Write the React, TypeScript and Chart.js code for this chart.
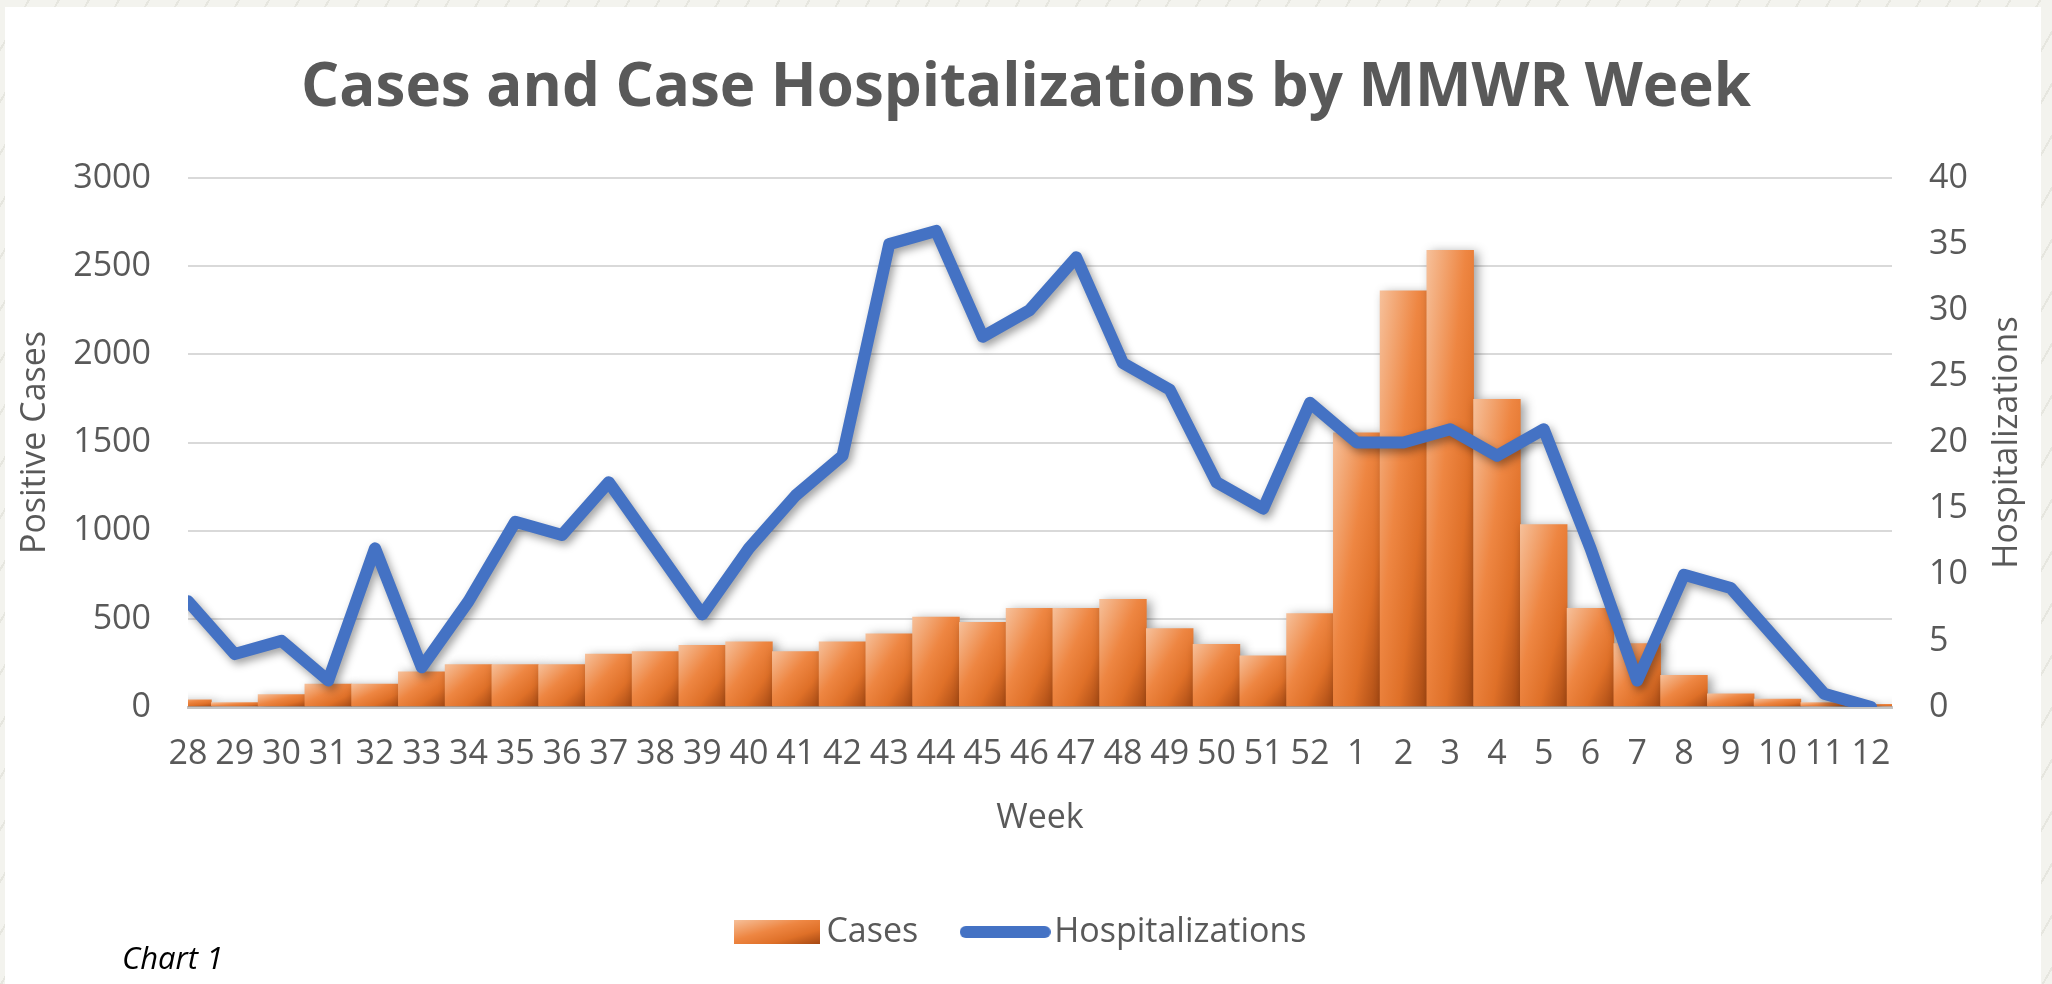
import React, { useEffect, useRef } from "react";
import { Chart, registerables } from "chart.js";

Chart.register(...registerables);

const chartTitle = "Cases and Case Hospitalizations by MMWR Week";
const leftAxisTitle = "Positive Cases";
const rightAxisTitle = "Hospitalizations";
const xAxisTitle = "Week";
const caption = "Chart 1";
const seriesNames = ["Cases", "Hospitalizations"];

const weeks = [
  "28", "29", "30", "31", "32", "33", "34", "35", "36", "37", "38", "39", "40",
  "41", "42", "43", "44", "45", "46", "47", "48", "49", "50", "51", "52",
  "1", "2", "3", "4", "5", "6", "7", "8", "9", "10", "11", "12",
];

const cases = [
  40, 25, 70, 130, 130, 200, 240, 240, 240, 300, 315, 350, 370,
  315, 370, 415, 510, 480, 560, 560, 610, 445, 355, 290, 530,
  1555, 2360, 2590, 1745, 1035, 560, 360, 180, 75, 45, 25, 15,
];

const hospitalizations = [
  8, 4, 5, 2, 12, 3, 8, 14, 13, 17, 12, 7, 12,
  16, 19, 35, 36, 28, 30, 34, 26, 24, 17, 15, 23,
  20, 20, 21, 19, 21, 12, 2, 10, 9, 5, 1, 0,
];

const leftTicks = [0, 500, 1000, 1500, 2000, 2500, 3000];
const rightTicks = [0, 5, 10, 15, 20, 25, 30, 35, 40];

const TEXT = "#595959";
const FONT = "'Open Sans'";
const LINE_COLOR = "#4472c4";

function barGradient(g: CanvasRenderingContext2D, x0: number, y0: number, w: number, h: number) {
  const hh = Math.max(h, 1);
  const t = (2 * w * hh) / (w * w + hh * hh);
  const grad = g.createLinearGradient(x0, y0, x0 + t * hh, y0 + t * w);
  grad.addColorStop(0, "#f6c09a");
  grad.addColorStop(0.42, "#ee8642");
  grad.addColorStop(0.7, "#df7028");
  grad.addColorStop(1, "#a54812");
  return grad;
}

const shadowPlugin = {
  id: "shadowPlugin",
  beforeDatasetDraw(chart: any, args: any) {
    const c = chart.ctx;
    c.save();
    c.shadowColor = "rgba(0,0,0,0.38)";
    if (args.index === 0) {
      c.shadowBlur = 10;
      c.shadowOffsetX = 4;
      c.shadowOffsetY = 2;
    } else {
      c.shadowBlur = 8;
      c.shadowOffsetX = 3;
      c.shadowOffsetY = 4;
    }
  },
  afterDatasetDraw(chart: any) {
    chart.ctx.restore();
  },
};

const rightTitlePlugin = {
  id: "rightTitlePlugin",
  afterDraw(chart: any) {
    const s = chart.scales.y1;
    const a = chart.chartArea;
    const c = chart.ctx;
    c.save();
    c.translate(s.left + 115, (a.top + a.bottom) / 2);
    c.rotate(-Math.PI / 2);
    c.font = `34px ${FONT}`;
    c.fillStyle = TEXT;
    c.textAlign = "center";
    c.textBaseline = "middle";
    c.fillText(rightAxisTitle, 0, 0);
    c.restore();
  },
};

export default function App() {
  const ref = useRef<HTMLCanvasElement | null>(null);

  useEffect(() => {
    document.body.style.margin = "0";
    const canvas = ref.current;
    if (!canvas) return;

    const swatch = document.createElement("canvas");
    swatch.width = 86;
    swatch.height = 24;
    const sg = swatch.getContext("2d")!;
    sg.fillStyle = barGradient(sg, 0, 0, 86, 24);
    sg.fillRect(0, 0, 86, 24);

    const lineSwatch = document.createElement("canvas");
    lineSwatch.width = 91;
    lineSwatch.height = 14;
    const lg = lineSwatch.getContext("2d")!;
    lg.strokeStyle = LINE_COLOR;
    lg.lineWidth = 12;
    lg.lineCap = "round";
    lg.beginPath();
    lg.moveTo(6, 7);
    lg.lineTo(85, 7);
    lg.stroke();

    const chart = new Chart(canvas, {
      type: "bar",
      data: {
        datasets: [
          {
            type: "bar",
            label: seriesNames[0],
            data: cases.map((v, i) => ({ x: i, y: v })),
            xAxisID: "x",
            yAxisID: "y",
            order: 2,
            barPercentage: 1,
            categoryPercentage: 1,
            borderWidth: 0,
            clip: 0,
            backgroundColor: (ctx: any) => {
              const ch = ctx.chart;
              const xs = ch.scales?.x;
              const ys = ch.scales?.y;
              if (!xs || !ys || ctx.type !== "data") return "#ed7d31";
              const i = ctx.dataIndex;
              const cx = xs.getPixelForValue(i);
              const half = (xs.getPixelForValue(1) - xs.getPixelForValue(0)) / 2;
              const top = ys.getPixelForValue(cases[i]);
              const base = ys.getPixelForValue(0);
              return barGradient(ch.ctx, cx - half, top, half * 2, base - top);
            },
          } as any,
          {
            type: "line",
            label: seriesNames[1],
            data: hospitalizations.map((v, i) => ({ x: i, y: v })),
            xAxisID: "x",
            yAxisID: "y1",
            order: 1,
            borderColor: LINE_COLOR,
            backgroundColor: LINE_COLOR,
            borderWidth: 12,
            borderCapStyle: "round",
            borderJoinStyle: "round",
            pointRadius: 0,
            tension: 0,
            fill: false,
          } as any,
        ],
      },
      options: {
        responsive: false,
        animation: false,
        devicePixelRatio: 1,
        events: [],
        layout: { padding: { left: 0, right: 0, top: 0, bottom: 25 } },
        plugins: {
          tooltip: { enabled: false },
          title: {
            display: true,
            text: chartTitle,
            color: TEXT,
            font: { family: FONT, size: 60, weight: "bold" },
            padding: { top: 53, bottom: 53 },
          },
          legend: {
            display: true,
            position: "bottom",
            labels: {
              usePointStyle: true,
              pointStyleWidth: 64,
              boxHeight: 24,
              padding: 55,
              color: TEXT,
              font: { family: FONT, size: 34 },
              generateLabels: () => [
                {
                  text: seriesNames[0],
                  pointStyle: swatch as any,
                  fillStyle: "#ed7d31",
                  strokeStyle: "rgba(0,0,0,0)",
                  lineWidth: 0,
                  datasetIndex: 0,
                  hidden: false,
                  fontColor: TEXT,
                },
                {
                  text: seriesNames[1],
                  pointStyle: lineSwatch as any,
                  fillStyle: LINE_COLOR,
                  strokeStyle: "rgba(0,0,0,0)",
                  lineWidth: 0,
                  datasetIndex: 1,
                  hidden: false,
                  fontColor: TEXT,
                } as any,
              ],
            },
          },
        },
        scales: {
          x: {
            type: "linear",
            offset: false,
            min: 0,
            max: 36.45,
            grid: { display: false, drawTicks: false, offset: false },
            border: { display: true, color: "#c4c4c4", width: 3 },
            afterBuildTicks: (axis: any) => {
              axis.ticks = weeks.map((_, i) => ({ value: i }));
            },
            afterFit: (axis: any) => {
              axis.height = 153;
            },
            ticks: {
              autoSkip: false,
              maxRotation: 0,
              minRotation: 0,
              padding: 27,
              color: TEXT,
              font: { family: FONT, size: 34 },
              callback: (value: any) => weeks[value as number] ?? "",
            },
            title: {
              display: true,
              text: xAxisTitle,
              color: TEXT,
              font: { family: FONT, size: 34 },
              padding: { top: 0, bottom: 21 },
            },
          },
          y: {
            type: "linear",
            position: "left",
            min: 0,
            max: 3000,
            grid: { color: "#d9d9d9", lineWidth: 2, drawTicks: false },
            border: { display: false },
            afterBuildTicks: (axis: any) => {
              axis.ticks = leftTicks.map((v) => ({ value: v }));
            },
            afterFit: (axis: any) => {
              axis.width = 188;
            },
            ticks: {
              padding: 37,
              color: TEXT,
              font: { family: FONT, size: 34 },
              callback: (value: any) => String(value),
            },
            title: {
              display: true,
              text: leftAxisTitle,
              color: TEXT,
              font: { family: FONT, size: 34 },
              padding: { top: 15, bottom: 0 },
            },
          },
          y1: {
            type: "linear",
            position: "right",
            min: 0,
            max: 40,
            grid: { display: false, drawTicks: false },
            border: { display: false },
            afterBuildTicks: (axis: any) => {
              axis.ticks = rightTicks.map((v) => ({ value: v }));
            },
            afterFit: (axis: any) => {
              axis.width = 160;
            },
            ticks: {
              padding: 37,
              color: TEXT,
              font: { family: FONT, size: 34 },
              callback: (value: any) => String(value),
            },
          },
        },
      } as any,
      plugins: [shadowPlugin, rightTitlePlugin],
    });

    return () => chart.destroy();
  }, []);

  return (
    <div
      style={{
        position: "relative",
        width: 2052,
        height: 984,
        overflow: "hidden",
        background:
          "repeating-linear-gradient(120deg, #f3f3ee 0px, #f3f3ee 24px, #e6e6df 24px, #e6e6df 26px)",
      }}
    >
      <div
        style={{
          position: "absolute",
          left: 5,
          top: 7,
          width: 2036,
          height: 977,
          background: "#ffffff",
        }}
      />
      <canvas
        ref={ref}
        width={2052}
        height={984}
        style={{ position: "absolute", left: 0, top: 0, width: 2052, height: 984 }}
      />
      <div
        style={{
          position: "absolute",
          left: 122,
          top: 936,
          fontFamily: "'Open Sans'",
          fontStyle: "italic",
          fontSize: 31,
          color: "#000000",
          whiteSpace: "nowrap",
        }}
      >
        {caption}
      </div>
    </div>
  );
}
